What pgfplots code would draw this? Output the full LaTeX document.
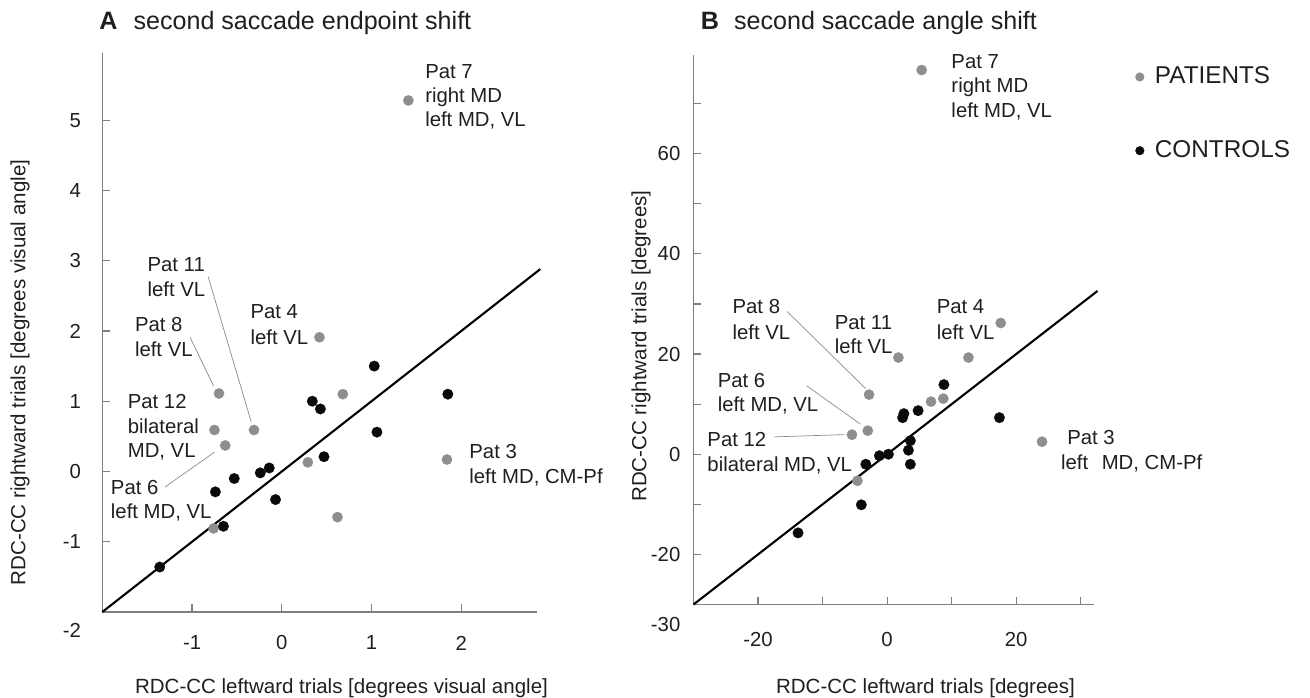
\documentclass[border=0pt]{standalone}
\usepackage{fontspec}
\setmainfont{Liberation Sans}
\usepackage{pgfplots}
\pgfplotsset{compat=1.18}
\definecolor{ptgray}{HTML}{8E8E8E}
\definecolor{axgray}{HTML}{7F7F7F}
\definecolor{ldgray}{HTML}{8A8A8A}
\definecolor{ctblack}{HTML}{0A0A0A}
\newcommand{\af}{\fontsize{10.2}{12}\selectfont}
\newcommand{\lf}{\fontsize{10.3}{12}\selectfont}
\newcommand{\tf}{\fontsize{12.6}{14}\selectfont}
\newcommand{\gf}{\fontsize{12.2}{14}\selectfont}
\tikzset{
 annot/.style={anchor=base west, inner sep=0pt, font=\af, text=black!88},
 ldr/.style={draw=ldgray, line width=0.35bp},
}
\pgfplotsset{
 myax/.style={
  scale only axis, clip=false,
  axis x line=bottom, axis y line=left,
  axis line style={draw=axgray, line width=0.6bp, -},
  tick align=inside,
  major tick length=3.75bp,
  tick style={draw=axgray, line width=0.6bp},
  ticklabel style={font=\af, inner sep=0pt, text=black!88},
  xticklabel style={anchor=center},
  yticklabel style={anchor=east},
 },
 gdot/.style={only marks, color=ptgray, mark=*, mark size=2.6bp, mark options={solid, fill=ptgray, draw=ptgray, line width=0.1bp}},
 bdot/.style={only marks, color=ctblack, mark=*, mark size=2.65bp, mark options={solid, fill=ctblack, draw=ctblack, line width=0.1bp}},
}
\begin{document}
\begin{tikzpicture}
\path[use as bounding box] (0,0) rectangle (655bp,349bp);
% ---------------- Panel A ----------------
\begin{axis}[myax, at={(51.15bp,43bp)}, anchor=south west, width=217.2bp, height=279.65bp,
 xmin=-2, xmax=2.84, ymin=-2, ymax=5.96,
 xtick={-1,0,1,2}, xticklabels={-1,0,1,2},
 ytick={-1,0,1,2,3,4,5}, yticklabels={-1,0,1,2,3,4,5},
 xticklabel style={yshift=-15.5bp},
 yticklabel style={xshift=-10.5bp},
 extra y ticks={-2}, extra y tick labels={-2},
 extra y tick style={major tick length=0pt, yticklabel style={yshift=-9bp}},
]
\addplot[black, line width=1.05bp] coordinates {(-2,-2) (2.88,2.88)};
\addplot[gdot] coordinates {
(-0.70,1.11) (-0.75,0.59) (-0.63,0.37) (-0.31,0.59) (0.68,1.10) (0.29,0.13)
(0.62,-0.65) (-0.76,-0.81) (1.84,0.17) (0.42,1.91) (1.41,5.28)};
\addplot[bdot] coordinates {
(1.03,1.50) (1.85,1.10) (0.34,1.00) (0.43,0.89) (1.06,0.56) (0.47,0.21)
(-0.14,0.05) (-0.24,-0.02) (-0.53,-0.10) (-0.74,-0.29) (-0.07,-0.40)
(-0.65,-0.78) (-1.36,-1.36)};
\node[annot] at (axis cs:1.594,5.598) {Pat 7};
\node[annot] at (axis cs:1.594,5.256) {right MD};
\node[annot] at (axis cs:1.594,4.915) {left MD, VL};
\node[annot] at (axis cs:-1.50,2.851) {Pat 11};
\node[annot] at (axis cs:-1.50,2.495) {left VL};
\node[annot] at (axis cs:-1.640,1.997) {Pat 8};
\node[annot] at (axis cs:-1.640,1.642) {left VL};
\node[annot] at (axis cs:-0.352,2.172) {Pat 4};
\node[annot] at (axis cs:-0.352,1.807) {left VL};
\node[annot] at (axis cs:-1.720,0.892) {Pat 12};
\node[annot] at (axis cs:-1.720,0.536) {bilateral};
\node[annot] at (axis cs:-1.720,0.195) {MD, VL};
\node[annot] at (axis cs:-1.908,-0.327) {Pat 6};
\node[annot] at (axis cs:-1.908,-0.673) {left MD, VL};
\node[annot] at (axis cs:2.086,0.181) {Pat 3};
\node[annot] at (axis cs:2.086,-0.171) {left MD, CM-Pf};
\draw[ldr] (axis cs:-0.821,2.774) -- (axis cs:-0.342,0.711);
\draw[ldr] (axis cs:-1.022,1.910) -- (axis cs:-0.759,1.213);
\draw[ldr] (axis cs:-1.303,-0.223) -- (axis cs:-0.750,0.275);
\end{axis}
% ---------------- Panel B ----------------
\begin{axis}[myax, at={(346.75bp,46.75bp)}, anchor=south west, width=200.4bp, height=274.75bp,
 xmin=-30, xmax=32.1, ymin=-30, ymax=79.7,
 xtick={-20,-10,0,10,20,30}, xticklabels={-20,,0,,20,},
 ytick={-20,-10,0,10,20,30,40,50,60,70}, yticklabels={-20,,0,,20,,40,,60,},
 xticklabel style={yshift=-17.5bp},
 yticklabel style={xshift=-6.4bp},
 extra y ticks={-30}, extra y tick labels={-30},
 extra y tick style={major tick length=0pt, yticklabel style={yshift=-10.25bp}},
 legend style={at={(1.1016,0.8930)}, anchor=west, draw=none, fill=none,
   inner sep=0pt, font=\gf, nodes={inner sep=0pt, text=black!88}, row sep=26.9bp, column sep=5.35bp},
 legend cell align=left,
 legend image code/.code={\draw[#1] plot coordinates {(0bp,0bp)};},
 legend image post style={mark size=2.2bp},
]
\addplot[black, line width=1.05bp, forget plot] coordinates {(-30,-30) (32.6,32.6)};
\addplot[gdot] coordinates {
(1.75,19.3) (12.6,19.3) (-2.8,11.9) (6.8,10.5) (8.7,11.1) (-5.45,3.9)
(-3.0,4.7) (-4.6,-5.3) (24.0,2.5) (17.6,26.2) (5.35,76.7)};
\addlegendentry{PATIENTS}
\addplot[bdot] coordinates {
(8.8,13.9) (2.4,7.3) (2.6,8.1) (4.8,8.7) (17.4,7.3) (3.6,2.7) (3.3,0.8)
(0.2,0.0) (-1.2,-0.3) (-3.3,-2.0) (3.6,-2.0) (-4.0,-10.1) (-13.8,-15.7)};
\addlegendentry{CONTROLS}
\node[annot] at (axis cs:9.91,77.06) {Pat 7};
\node[annot] at (axis cs:9.91,72.2) {right MD};
\node[annot] at (axis cs:9.91,67.2) {left MD, VL};
\node[annot] at (axis cs:-24.0,28.0) {Pat 8};
\node[annot] at (axis cs:-24.0,22.86) {left VL};
\node[annot] at (axis cs:-8.17,25.0) {Pat 11};
\node[annot] at (axis cs:-8.17,20.2) {left VL};
\node[annot] at (axis cs:7.63,28.0) {Pat 4};
\node[annot] at (axis cs:7.63,22.86) {left VL};
\node[annot] at (axis cs:-26.3,13.34) {Pat 6};
\node[annot] at (axis cs:-26.3,8.54) {left MD, VL};
\node[annot] at (axis cs:-27.9,1.54) {Pat 12};
\node[annot] at (axis cs:-27.9,-3.46) {bilateral MD, VL};
\node[annot] at (axis cs:27.86,1.86) {Pat 3};
\node[annot] at (axis cs:26.9,-3.14) {left\hspace{6.75bp}MD, CM-Pf};
\draw[ldr] (axis cs:-15.5,28.5) -- (axis cs:-3.33,13.1);
\draw[ldr] (axis cs:-12.47,13.66) -- (axis cs:-4.12,6.0);
\draw[ldr] (axis cs:-17.5,3.46) -- (axis cs:-6.62,3.92);
\end{axis}
% ---------------- titles and labels ----------------
\node[anchor=base west, inner sep=0pt, font=\tf, text=black!88] at (49.5bp,334.35bp) {\textbf{A}\hspace{8bp}second saccade endpoint shift};
\node[anchor=base west, inner sep=0pt, font=\tf, text=black!88] at (350.25bp,334bp) {\textbf{B}\hspace{7.5bp}second saccade angle shift};
\node[rotate=90, inner sep=0pt, font=\lf, text=black!88] at (10bp,162.75bp) {RDC-CC rightward trials [degrees visual angle]};
\node[rotate=90, inner sep=0pt, font=\lf, text=black!88] at (320.5bp,176bp) {RDC-CC rightward trials [degrees]};
\node[anchor=base, inner sep=0pt, font=\lf, text=black!88] at (170.75bp,2.4bp) {RDC-CC leftward trials [degrees visual angle]};
\node[anchor=base, inner sep=0pt, font=\lf, text=black!88] at (462.75bp,2.4bp) {RDC-CC leftward trials [degrees]};
\end{tikzpicture}
\end{document}
